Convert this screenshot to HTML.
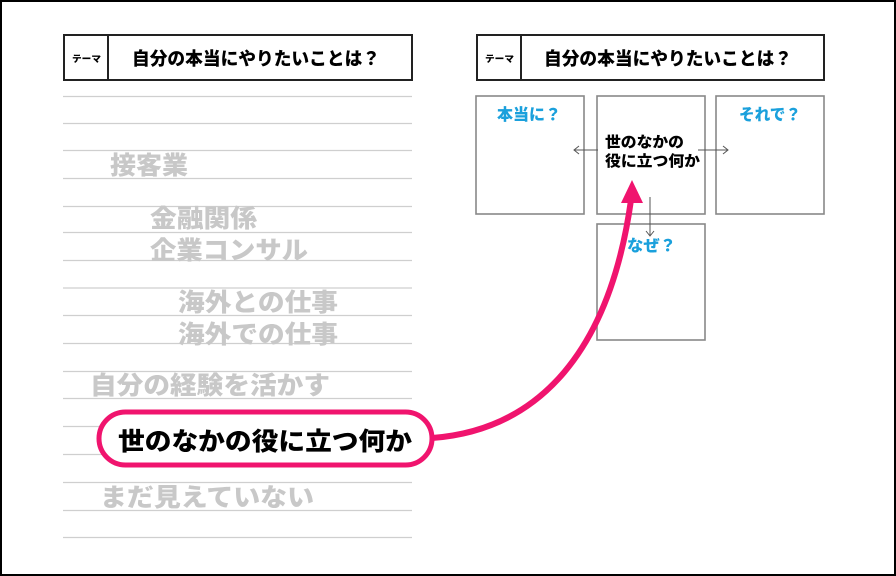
<!DOCTYPE html>
<html><head><meta charset="utf-8"><style>
html,body{margin:0;padding:0;background:#fff}
svg{display:block}
text{font-family:"Liberation Sans","Noto Sans CJK JP",sans-serif;font-weight:900}
</style></head><body>
<svg width="896" height="576" viewBox="0 0 896 576">
<rect x="1" y="1" width="894" height="574" fill="#fff" stroke="#000" stroke-width="2"/>
<g stroke="#cfcfcf" stroke-width="1.2">
<line x1="63" x2="412" y1="96.5" y2="96.5"/><line x1="63" x2="412" y1="123.5" y2="123.5"/>
<line x1="63" x2="412" y1="150.5" y2="150.5"/><line x1="63" x2="412" y1="178.5" y2="178.5"/>
<line x1="63" x2="412" y1="206.5" y2="206.5"/><line x1="63" x2="412" y1="232.5" y2="232.5"/>
<line x1="63" x2="412" y1="260.5" y2="260.5"/><line x1="63" x2="412" y1="288" y2="288"/>
<line x1="63" x2="412" y1="315.5" y2="315.5"/><line x1="63" x2="412" y1="343.5" y2="343.5"/>
<line x1="63" x2="412" y1="371.5" y2="371.5"/><line x1="63" x2="412" y1="398.5" y2="398.5"/>
<line x1="63" x2="412" y1="426.5" y2="426.5"/><line x1="63" x2="412" y1="454.5" y2="454.5"/>
<line x1="63" x2="412" y1="482.5" y2="482.5"/><line x1="63" x2="412" y1="510.5" y2="510.5"/>
<line x1="63" x2="412" y1="537.5" y2="537.5"/>
</g>
<g fill="none" stroke="#222" stroke-width="2">
<rect x="64" y="35" width="348" height="45"/><line x1="108" y1="35" x2="108" y2="80"/>
<rect x="477" y="35" width="347" height="45"/><line x1="521" y1="35" x2="521" y2="80"/>
</g>
<text x="72" y="62" font-size="9" textLength="29" lengthAdjust="spacingAndGlyphs">テーマ</text>
<text x="132" y="65" font-size="18" textLength="248" lengthAdjust="spacingAndGlyphs">自分の本当にやりたいことは？</text>
<text x="485" y="62" font-size="9" textLength="29" lengthAdjust="spacingAndGlyphs">テーマ</text>
<text x="544" y="65" font-size="18" textLength="248" lengthAdjust="spacingAndGlyphs">自分の本当にやりたいことは？</text>
<g fill="#c8c8c8" font-size="25">
<text x="110" y="174" textLength="78" lengthAdjust="spacingAndGlyphs">接客業</text>
<text x="150" y="227" textLength="107" lengthAdjust="spacingAndGlyphs">金融関係</text>
<text x="150" y="259" textLength="158" lengthAdjust="spacingAndGlyphs">企業コンサル</text>
<text x="178" y="311" textLength="160" lengthAdjust="spacingAndGlyphs">海外との仕事</text>
<text x="178" y="343" textLength="160" lengthAdjust="spacingAndGlyphs">海外での仕事</text>
<text x="90" y="394" textLength="240" lengthAdjust="spacingAndGlyphs">自分の経験を活かす</text>
<text x="100" y="506" textLength="214" lengthAdjust="spacingAndGlyphs">まだ見えていない</text>
</g>
<g fill="#fff" stroke="#888" stroke-width="1.6">
<rect x="476" y="96" width="108" height="118"/>
<rect x="597" y="96" width="108" height="118"/>
<rect x="716" y="96" width="108" height="118"/>
<rect x="597" y="224" width="108" height="116"/>
</g>
<g fill="#1aa0dc" font-size="16">
<text x="497" y="120" textLength="64" lengthAdjust="spacingAndGlyphs">本当に？</text>
<text x="739" y="120" textLength="62" lengthAdjust="spacingAndGlyphs">それで？</text>
<text x="627" y="251" textLength="49" lengthAdjust="spacingAndGlyphs">なぜ？</text>
</g>
<text x="605" y="147" font-size="15" textLength="79" lengthAdjust="spacingAndGlyphs">世のなかの</text>
<text x="605" y="166" font-size="15" textLength="95" lengthAdjust="spacingAndGlyphs">役に立つ何か</text>
<g stroke="#555" stroke-width="1" fill="none">
<line x1="574" y1="150" x2="598" y2="150"/><polyline points="579,146 574,150 579,154"/>
<line x1="698" y1="150" x2="728" y2="150"/><polyline points="723,146 728,150 723,154"/>
<line x1="650" y1="197" x2="650" y2="236"/><polyline points="646,231 650,236 654,231"/>
</g>
<rect x="99" y="412" width="333" height="53" rx="26.5" fill="#fff" stroke="#f0146e" stroke-width="5"/>
<text x="118" y="450" font-size="25" fill="#000" textLength="294" lengthAdjust="spacingAndGlyphs">世のなかの役に立つ何か</text>
<path d="M432,438 C540,430 610,350 631,200" fill="none" stroke="#f0146e" stroke-width="6"/>
<polygon points="632,180 621,203 643,203" fill="#f0146e"/>
</svg>
</body></html>
